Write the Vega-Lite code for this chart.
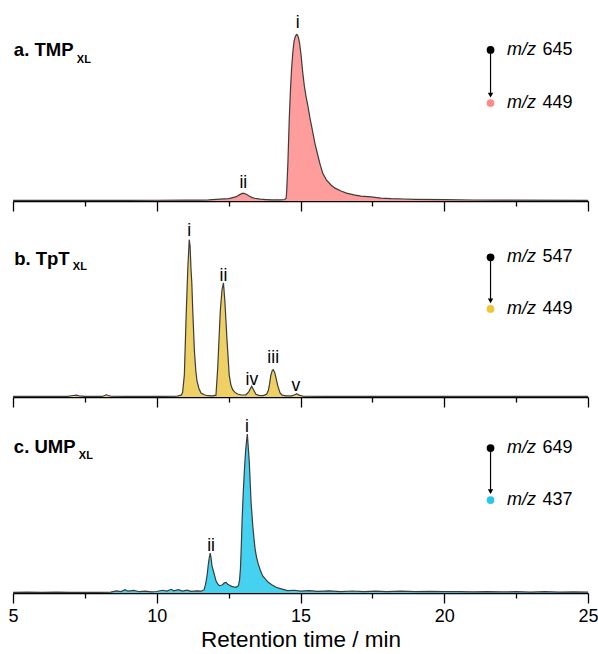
{
  "$schema": "https://vega.github.io/schema/vega-lite/v6.json",
  "padding": {"left": 7, "top": 11, "right": 0, "bottom": 0},
  "bounds": "flush",
  "spacing": 6,
  "config": {
    "view": {"stroke": null},
    "axis": {"domainColor": "black", "tickColor": "black", "domainWidth": 1.3, "tickWidth": 1.3, "labelFont": "Liberation Sans", "labelFontSize": 18, "labelColor": "black", "titleFont": "Liberation Sans", "titleFontSize": 22.5, "titleFontWeight": "normal", "titleColor": "black", "grid": false},
    "text": {"font": "Liberation Sans", "color": "black"}
  },
  "datasets": {
    "tr": [
      {"p":"a","t":5,"v":0.3},{"p":"a","t":7,"v":0.3},{"p":"a","t":9,"v":0.35},{"p":"a","t":10,"v":0.4},{"p":"a","t":11,"v":0.5},{"p":"a","t":11.5,"v":0.5},{"p":"a","t":11.8,"v":0.6},{"p":"a","t":12.2,"v":1.0},{"p":"a","t":12.5,"v":1.3},{"p":"a","t":12.75,"v":2.2},{"p":"a","t":12.9,"v":3.6},{"p":"a","t":13.0,"v":4.3},{"p":"a","t":13.1,"v":3.8},{"p":"a","t":13.2,"v":2.8},{"p":"a","t":13.3,"v":2.0},{"p":"a","t":13.4,"v":1.5},{"p":"a","t":13.6,"v":1.0},{"p":"a","t":13.8,"v":0.8},{"p":"a","t":14.0,"v":0.6},{"p":"a","t":14.3,"v":0.6},{"p":"a","t":14.45,"v":0.8},{"p":"a","t":14.5,"v":1.5},{"p":"a","t":14.52,"v":5.4},{"p":"a","t":14.56,"v":20},{"p":"a","t":14.61,"v":45},{"p":"a","t":14.65,"v":60},{"p":"a","t":14.69,"v":72},{"p":"a","t":14.74,"v":82},{"p":"a","t":14.78,"v":87.2},{"p":"a","t":14.83,"v":89.8},{"p":"a","t":14.87,"v":90.5},{"p":"a","t":14.9,"v":90.0},{"p":"a","t":14.93,"v":88.8},{"p":"a","t":14.97,"v":85.5},{"p":"a","t":15.02,"v":79.3},{"p":"a","t":15.07,"v":71},{"p":"a","t":15.13,"v":63},{"p":"a","t":15.19,"v":57},{"p":"a","t":15.25,"v":52.2},{"p":"a","t":15.33,"v":45},{"p":"a","t":15.42,"v":38},{"p":"a","t":15.5,"v":31.5},{"p":"a","t":15.6,"v":25},{"p":"a","t":15.68,"v":20},{"p":"a","t":15.77,"v":15.2},{"p":"a","t":15.9,"v":11.5},{"p":"a","t":16.06,"v":8.7},{"p":"a","t":16.2,"v":7},{"p":"a","t":16.41,"v":5.4},{"p":"a","t":16.6,"v":4.3},{"p":"a","t":16.86,"v":3.3},{"p":"a","t":17.1,"v":2.7},{"p":"a","t":17.45,"v":2.2},{"p":"a","t":17.8,"v":1.6},{"p":"a","t":18.15,"v":1.3},{"p":"a","t":18.6,"v":1.1},{"p":"a","t":19,"v":0.9},{"p":"a","t":20,"v":0.7},{"p":"a","t":21,"v":0.55},{"p":"a","t":22,"v":0.45},{"p":"a","t":25,"v":0.3},
      {"p":"b","t":5,"v":0.3},{"p":"b","t":6,"v":0.3},{"p":"b","t":6.9,"v":0.3},{"p":"b","t":7.1,"v":0.8},{"p":"b","t":7.2,"v":1.0},{"p":"b","t":7.3,"v":0.6},{"p":"b","t":7.5,"v":0.3},{"p":"b","t":8.1,"v":0.3},{"p":"b","t":8.25,"v":1.2},{"p":"b","t":8.4,"v":0.4},{"p":"b","t":9,"v":0.3},{"p":"b","t":10,"v":0.3},{"p":"b","t":10.7,"v":0.4},{"p":"b","t":10.85,"v":1.0},{"p":"b","t":10.9,"v":2.5},{"p":"b","t":10.96,"v":12},{"p":"b","t":11.02,"v":43},{"p":"b","t":11.08,"v":70},{"p":"b","t":11.13,"v":85.5},{"p":"b","t":11.16,"v":82},{"p":"b","t":11.19,"v":70},{"p":"b","t":11.22,"v":62},{"p":"b","t":11.25,"v":48},{"p":"b","t":11.31,"v":25},{"p":"b","t":11.36,"v":14},{"p":"b","t":11.4,"v":8.7},{"p":"b","t":11.47,"v":4.5},{"p":"b","t":11.54,"v":2.2},{"p":"b","t":11.65,"v":1.2},{"p":"b","t":11.77,"v":0.7},{"p":"b","t":11.95,"v":0.6},{"p":"b","t":12.06,"v":1.0},{"p":"b","t":12.12,"v":15.8},{"p":"b","t":12.21,"v":46.7},{"p":"b","t":12.27,"v":58.3},{"p":"b","t":12.32,"v":62},{"p":"b","t":12.37,"v":52},{"p":"b","t":12.44,"v":32},{"p":"b","t":12.52,"v":12},{"p":"b","t":12.58,"v":6.5},{"p":"b","t":12.64,"v":4},{"p":"b","t":12.72,"v":2.5},{"p":"b","t":12.81,"v":1.6},{"p":"b","t":12.95,"v":1.1},{"p":"b","t":13.1,"v":1.2},{"p":"b","t":13.2,"v":2.8},{"p":"b","t":13.3,"v":5.8},{"p":"b","t":13.38,"v":3.5},{"p":"b","t":13.45,"v":1.5},{"p":"b","t":13.55,"v":0.9},{"p":"b","t":13.7,"v":0.8},{"p":"b","t":13.82,"v":1.5},{"p":"b","t":13.88,"v":3.5},{"p":"b","t":13.92,"v":6.7},{"p":"b","t":13.97,"v":12},{"p":"b","t":14.02,"v":14.5},{"p":"b","t":14.05,"v":14.9},{"p":"b","t":14.1,"v":13.5},{"p":"b","t":14.15,"v":10.3},{"p":"b","t":14.21,"v":6},{"p":"b","t":14.29,"v":2.2},{"p":"b","t":14.36,"v":1.0},{"p":"b","t":14.5,"v":0.6},{"p":"b","t":14.7,"v":0.6},{"p":"b","t":14.8,"v":1.2},{"p":"b","t":14.87,"v":1.8},{"p":"b","t":14.95,"v":1.0},{"p":"b","t":15.1,"v":0.4},{"p":"b","t":16,"v":0.3},{"p":"b","t":18,"v":0.3},{"p":"b","t":20,"v":0.3},{"p":"b","t":25,"v":0.3},
      {"p":"c","t":5,"v":0.3},{"p":"c","t":5.5,"v":0.5},{"p":"c","t":6,"v":0.3},{"p":"c","t":6.5,"v":0.5},{"p":"c","t":7,"v":0.3},{"p":"c","t":7.5,"v":0.4},{"p":"c","t":8,"v":0.3},{"p":"c","t":8.4,"v":0.5},{"p":"c","t":8.6,"v":1.2},{"p":"c","t":8.75,"v":0.8},{"p":"c","t":8.9,"v":1.8},{"p":"c","t":9,"v":1.0},{"p":"c","t":9.2,"v":1.4},{"p":"c","t":9.4,"v":0.7},{"p":"c","t":9.6,"v":1.0},{"p":"c","t":9.8,"v":0.6},{"p":"c","t":10,"v":0.8},{"p":"c","t":10.2,"v":1.5},{"p":"c","t":10.35,"v":1.0},{"p":"c","t":10.5,"v":2.0},{"p":"c","t":10.6,"v":1.2},{"p":"c","t":10.75,"v":1.8},{"p":"c","t":10.9,"v":1.0},{"p":"c","t":11.05,"v":1.5},{"p":"c","t":11.2,"v":0.9},{"p":"c","t":11.4,"v":1.2},{"p":"c","t":11.55,"v":1.0},{"p":"c","t":11.65,"v":1.8},{"p":"c","t":11.7,"v":5},{"p":"c","t":11.75,"v":9.4},{"p":"c","t":11.79,"v":15},{"p":"c","t":11.82,"v":18.5},{"p":"c","t":11.86,"v":21.7},{"p":"c","t":11.89,"v":19},{"p":"c","t":11.92,"v":14.9},{"p":"c","t":11.98,"v":11.4},{"p":"c","t":12.02,"v":9},{"p":"c","t":12.06,"v":6.7},{"p":"c","t":12.12,"v":5},{"p":"c","t":12.18,"v":4},{"p":"c","t":12.24,"v":4.2},{"p":"c","t":12.29,"v":4.5},{"p":"c","t":12.35,"v":5.5},{"p":"c","t":12.41,"v":5.8},{"p":"c","t":12.47,"v":4.8},{"p":"c","t":12.52,"v":4.3},{"p":"c","t":12.6,"v":3.6},{"p":"c","t":12.68,"v":3.3},{"p":"c","t":12.76,"v":3.1},{"p":"c","t":12.84,"v":4},{"p":"c","t":12.88,"v":7},{"p":"c","t":12.91,"v":13},{"p":"c","t":12.94,"v":25},{"p":"c","t":12.97,"v":40},{"p":"c","t":13.01,"v":55},{"p":"c","t":13.05,"v":67},{"p":"c","t":13.09,"v":77},{"p":"c","t":13.12,"v":82},{"p":"c","t":13.15,"v":86.4},{"p":"c","t":13.18,"v":80},{"p":"c","t":13.22,"v":71},{"p":"c","t":13.25,"v":60},{"p":"c","t":13.28,"v":49.5},{"p":"c","t":13.34,"v":36.6},{"p":"c","t":13.38,"v":30},{"p":"c","t":13.42,"v":24},{"p":"c","t":13.47,"v":19.5},{"p":"c","t":13.53,"v":15.8},{"p":"c","t":13.6,"v":12.5},{"p":"c","t":13.68,"v":9.4},{"p":"c","t":13.78,"v":7.5},{"p":"c","t":13.88,"v":5.8},{"p":"c","t":14,"v":4.5},{"p":"c","t":14.15,"v":3.1},{"p":"c","t":14.3,"v":2.4},{"p":"c","t":14.55,"v":1.3},{"p":"c","t":14.8,"v":1.5},{"p":"c","t":15,"v":1.0},{"p":"c","t":15.3,"v":1.3},{"p":"c","t":15.6,"v":0.9},{"p":"c","t":16,"v":1.2},{"p":"c","t":16.4,"v":0.8},{"p":"c","t":16.8,"v":1.1},{"p":"c","t":17.2,"v":0.7},{"p":"c","t":17.6,"v":1.0},{"p":"c","t":18,"v":0.8},{"p":"c","t":18.5,"v":1.0},{"p":"c","t":19,"v":0.7},{"p":"c","t":19.5,"v":0.9},{"p":"c","t":20,"v":0.7},{"p":"c","t":20.5,"v":0.8},{"p":"c","t":21,"v":0.6},{"p":"c","t":21.5,"v":0.8},{"p":"c","t":22,"v":0.6},{"p":"c","t":22.5,"v":0.7},{"p":"c","t":23,"v":0.5},{"p":"c","t":23.5,"v":0.7},{"p":"c","t":24,"v":0.5},{"p":"c","t":24.5,"v":0.6},{"p":"c","t":25,"v":0.5}
    ],
    "lab": [
      {"p":"a","t":14.9,"v":94.0,"text":"i"},{"p":"a","t":13.01,"v":7.07,"text":"ii"},
      {"p":"b","t":11.13,"v":87.3,"text":"i"},{"p":"b","t":12.32,"v":62.9,"text":"ii"},{"p":"b","t":13.31,"v":6.7,"text":"iv"},{"p":"b","t":14.05,"v":18.5,"text":"iii"},{"p":"b","t":14.84,"v":3.4,"text":"v"},
      {"p":"c","t":13.14,"v":87.3,"text":"i"},{"p":"c","t":11.89,"v":23.0,"text":"ii"}
    ],
    "ttl": [
      {"p":"a","t":5.03,"v":78.8,"text":"a. TMP"},{"p":"b","t":5.04,"v":71.9,"text":"b. TpT"},{"p":"c","t":5.03,"v":76.1,"text":"c. UMP"}
    ],
    "sub": [
      {"p":"a","t":7.22,"v":75.0,"text":"XL"},{"p":"b","t":7.08,"v":69.2,"text":"XL"},{"p":"c","t":7.29,"v":72.8,"text":"XL"}
    ],
    "from": [
      {"p":"a","t":21.61,"v":82.07,"v2":58},{"p":"b","t":21.61,"v":75.92,"v2":52},{"p":"c","t":21.61,"v":78.8,"v2":55}
    ],
    "to": [
      {"p":"a","t":21.61,"v":53.26},{"p":"b","t":21.61,"v":47.83},{"p":"c","t":21.61,"v":50.54}
    ],
    "head": [
      {"p":"a","t":21.61,"v":57.6},{"p":"b","t":21.61,"v":52.2},{"p":"c","t":21.61,"v":55.1}
    ],
    "mz": [
      {"p":"a","t":22.18,"v":82.07,"text":"m/z"},{"p":"a","t":22.18,"v":53.26,"text":"m/z"},
      {"p":"b","t":22.18,"v":75.92,"text":"m/z"},{"p":"b","t":22.18,"v":47.83,"text":"m/z"},
      {"p":"c","t":22.18,"v":78.8,"text":"m/z"},{"p":"c","t":22.18,"v":50.54,"text":"m/z"}
    ],
    "num": [
      {"p":"a","t":23.42,"v":82.07,"text":"645"},{"p":"a","t":23.42,"v":53.26,"text":"449"},
      {"p":"b","t":23.42,"v":75.92,"text":"547"},{"p":"b","t":23.42,"v":47.83,"text":"449"},
      {"p":"c","t":23.42,"v":78.8,"text":"649"},{"p":"c","t":23.42,"v":50.54,"text":"437"}
    ]
  },
  "vconcat": [
    {
      "width": 575, "height": 190,
      "encoding": {
        "x": {"field": "t", "type": "quantitative", "scale": {"domain": [5, 25], "nice": false, "zero": false},
              "axis": {"values": [5, 7.5, 10, 12.5, 15, 17.5, 20, 22.5, 25], "labels": false, "title": null, "tickSize": {"condition": {"test": "datum.value % 5 === 0", "value": 10}, "value": 5}}},
        "y": {"field": "v", "type": "quantitative", "scale": {"domain": [0, 103.26], "nice": false, "zero": false}, "axis": null}
      },
      "layer": [
        {"data": {"name": "tr"}, "transform": [{"filter": "datum.p === 'a'"}], "mark": {"type": "area", "color": "#ff9d9d"}},
        {"data": {"name": "tr"}, "transform": [{"filter": "datum.p === 'a'"}], "mark": {"type": "line", "color": "#3c3c3c", "strokeWidth": 1.2}},
        {"data": {"name": "lab"}, "transform": [{"filter": "datum.p === 'a'"}], "mark": {"type": "text", "fontSize": 17.5, "baseline": "alphabetic", "align": "center"}, "encoding": {"text": {"field": "text"}}},
        {"data": {"name": "ttl"}, "transform": [{"filter": "datum.p === 'a'"}], "mark": {"type": "text", "fontSize": 18.5, "fontWeight": "bold", "baseline": "alphabetic", "align": "left"}, "encoding": {"text": {"field": "text"}}},
        {"data": {"name": "sub"}, "transform": [{"filter": "datum.p === 'a'"}], "mark": {"type": "text", "fontSize": 11, "fontWeight": "bold", "baseline": "alphabetic", "align": "left"}, "encoding": {"text": {"field": "text"}}},
        {"data": {"name": "from"}, "transform": [{"filter": "datum.p === 'a'"}], "mark": {"type": "rule", "color": "black", "strokeWidth": 1.2}, "encoding": {"y2": {"field": "v2"}}},
        {"data": {"name": "head"}, "transform": [{"filter": "datum.p === 'a'"}], "mark": {"type": "point", "shape": "triangle-down", "filled": true, "color": "black", "size": 30, "opacity": 1}},
        {"data": {"name": "from"}, "transform": [{"filter": "datum.p === 'a'"}], "mark": {"type": "point", "shape": "circle", "filled": true, "color": "black", "size": 60, "opacity": 1}},
        {"data": {"name": "to"}, "transform": [{"filter": "datum.p === 'a'"}], "mark": {"type": "point", "shape": "circle", "filled": true, "color": "#ff8a8a", "size": 60, "opacity": 1}},
        {"data": {"name": "mz"}, "transform": [{"filter": "datum.p === 'a'"}], "mark": {"type": "text", "fontSize": 18, "fontStyle": "italic", "baseline": "middle", "align": "left"}, "encoding": {"text": {"field": "text"}}},
        {"data": {"name": "num"}, "transform": [{"filter": "datum.p === 'a'"}], "mark": {"type": "text", "fontSize": 18, "baseline": "middle", "align": "left"}, "encoding": {"text": {"field": "text"}}}
      ]
    },
    {
      "width": 575, "height": 190,
      "encoding": {
        "x": {"field": "t", "type": "quantitative", "scale": {"domain": [5, 25], "nice": false, "zero": false},
              "axis": {"values": [5, 7.5, 10, 12.5, 15, 17.5, 20, 22.5, 25], "labels": false, "title": null, "tickSize": {"condition": {"test": "datum.value % 5 === 0", "value": 10}, "value": 5}}},
        "y": {"field": "v", "type": "quantitative", "scale": {"domain": [0, 103.26], "nice": false, "zero": false}, "axis": null}
      },
      "layer": [
        {"data": {"name": "tr"}, "transform": [{"filter": "datum.p === 'b'"}], "mark": {"type": "area", "color": "#eed064"}},
        {"data": {"name": "tr"}, "transform": [{"filter": "datum.p === 'b'"}], "mark": {"type": "line", "color": "#3c3c3c", "strokeWidth": 1.2}},
        {"data": {"name": "lab"}, "transform": [{"filter": "datum.p === 'b'"}], "mark": {"type": "text", "fontSize": 17.5, "baseline": "alphabetic", "align": "center"}, "encoding": {"text": {"field": "text"}}},
        {"data": {"name": "ttl"}, "transform": [{"filter": "datum.p === 'b'"}], "mark": {"type": "text", "fontSize": 18.5, "fontWeight": "bold", "baseline": "alphabetic", "align": "left"}, "encoding": {"text": {"field": "text"}}},
        {"data": {"name": "sub"}, "transform": [{"filter": "datum.p === 'b'"}], "mark": {"type": "text", "fontSize": 11, "fontWeight": "bold", "baseline": "alphabetic", "align": "left"}, "encoding": {"text": {"field": "text"}}},
        {"data": {"name": "from"}, "transform": [{"filter": "datum.p === 'b'"}], "mark": {"type": "rule", "color": "black", "strokeWidth": 1.2}, "encoding": {"y2": {"field": "v2"}}},
        {"data": {"name": "head"}, "transform": [{"filter": "datum.p === 'b'"}], "mark": {"type": "point", "shape": "triangle-down", "filled": true, "color": "black", "size": 30, "opacity": 1}},
        {"data": {"name": "from"}, "transform": [{"filter": "datum.p === 'b'"}], "mark": {"type": "point", "shape": "circle", "filled": true, "color": "black", "size": 60, "opacity": 1}},
        {"data": {"name": "to"}, "transform": [{"filter": "datum.p === 'b'"}], "mark": {"type": "point", "shape": "circle", "filled": true, "color": "#eec63a", "size": 60, "opacity": 1}},
        {"data": {"name": "mz"}, "transform": [{"filter": "datum.p === 'b'"}], "mark": {"type": "text", "fontSize": 18, "fontStyle": "italic", "baseline": "middle", "align": "left"}, "encoding": {"text": {"field": "text"}}},
        {"data": {"name": "num"}, "transform": [{"filter": "datum.p === 'b'"}], "mark": {"type": "text", "fontSize": 18, "baseline": "middle", "align": "left"}, "encoding": {"text": {"field": "text"}}}
      ]
    },
    {
      "width": 575, "height": 190,
      "encoding": {
        "x": {"field": "t", "type": "quantitative", "scale": {"domain": [5, 25], "nice": false, "zero": false},
              "axis": {"values": [5, 7.5, 10, 12.5, 15, 17.5, 20, 22.5, 25], "title": "Retention time / min", "labelFlush": false, "labelOverlap": false, "labelPadding": 4, "titlePadding": 3, "labelExpr": "datum.value % 5 === 0 ? datum.label : ''", "tickSize": {"condition": {"test": "datum.value % 5 === 0", "value": 10}, "value": 5}}},
        "y": {"field": "v", "type": "quantitative", "scale": {"domain": [0, 103.26], "nice": false, "zero": false}, "axis": null}
      },
      "layer": [
        {"data": {"name": "tr"}, "transform": [{"filter": "datum.p === 'c'"}], "mark": {"type": "area", "color": "#44d2f0"}},
        {"data": {"name": "tr"}, "transform": [{"filter": "datum.p === 'c'"}], "mark": {"type": "line", "color": "#3c3c3c", "strokeWidth": 1.2}},
        {"data": {"name": "lab"}, "transform": [{"filter": "datum.p === 'c'"}], "mark": {"type": "text", "fontSize": 17.5, "baseline": "alphabetic", "align": "center"}, "encoding": {"text": {"field": "text"}}},
        {"data": {"name": "ttl"}, "transform": [{"filter": "datum.p === 'c'"}], "mark": {"type": "text", "fontSize": 18.5, "fontWeight": "bold", "baseline": "alphabetic", "align": "left"}, "encoding": {"text": {"field": "text"}}},
        {"data": {"name": "sub"}, "transform": [{"filter": "datum.p === 'c'"}], "mark": {"type": "text", "fontSize": 11, "fontWeight": "bold", "baseline": "alphabetic", "align": "left"}, "encoding": {"text": {"field": "text"}}},
        {"data": {"name": "from"}, "transform": [{"filter": "datum.p === 'c'"}], "mark": {"type": "rule", "color": "black", "strokeWidth": 1.2}, "encoding": {"y2": {"field": "v2"}}},
        {"data": {"name": "head"}, "transform": [{"filter": "datum.p === 'c'"}], "mark": {"type": "point", "shape": "triangle-down", "filled": true, "color": "black", "size": 30, "opacity": 1}},
        {"data": {"name": "from"}, "transform": [{"filter": "datum.p === 'c'"}], "mark": {"type": "point", "shape": "circle", "filled": true, "color": "black", "size": 60, "opacity": 1}},
        {"data": {"name": "to"}, "transform": [{"filter": "datum.p === 'c'"}], "mark": {"type": "point", "shape": "circle", "filled": true, "color": "#2cc6ea", "size": 60, "opacity": 1}},
        {"data": {"name": "mz"}, "transform": [{"filter": "datum.p === 'c'"}], "mark": {"type": "text", "fontSize": 18, "fontStyle": "italic", "baseline": "middle", "align": "left"}, "encoding": {"text": {"field": "text"}}},
        {"data": {"name": "num"}, "transform": [{"filter": "datum.p === 'c'"}], "mark": {"type": "text", "fontSize": 18, "baseline": "middle", "align": "left"}, "encoding": {"text": {"field": "text"}}}
      ]
    }
  ]
}
